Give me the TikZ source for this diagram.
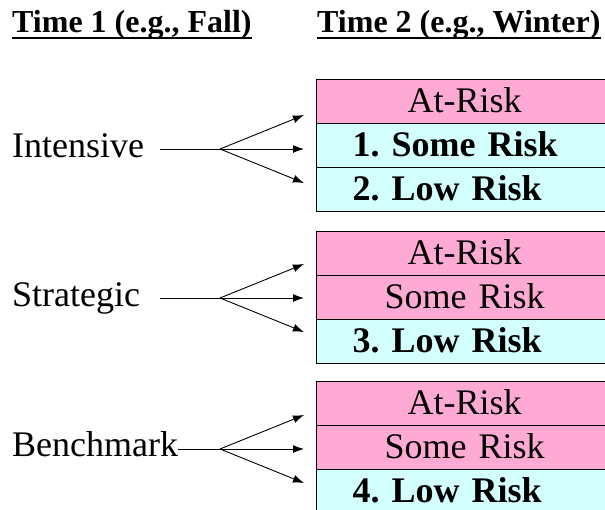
\documentclass[tikz,border=0pt]{standalone}
\usepackage{fontspec}
\setmainfont{LiberationSerif}[Extension=.ttf, UprightFont=*-Regular, BoldFont=*-Bold,
  ItalicFont=*-Italic, BoldItalicFont=*-BoldItalic]
\usetikzlibrary{arrows.meta}
\definecolor{riskpink}{RGB}{255,170,212}
\definecolor{riskcyan}{RGB}{212,255,255}
\frenchspacing
\tikzset{
  heading/.style={anchor=base west, inner sep=0pt, text depth=6pt,
    font=\fontsize{32}{32}\selectfont\bfseries},
  group/.style={anchor=base west, inner sep=0pt,
    font=\fontsize{36}{36}\selectfont},
  row/.style={draw=black, line width=1.3pt, anchor=north west,
    minimum height=44pt, inner xsep=36pt, inner ysep=0pt, text width=224pt,
    text height=26pt, text depth=5pt, font=\fontsize{36}{36}\selectfont},
  atrisk/.style={row, fill=riskpink, align=center},
  okrow/.style={row, fill=riskcyan, align=left, font=\fontsize{36}{36}\selectfont\bfseries},
  fan/.style={line width=0.9pt, -{Latex[length=11pt,width=8pt]}},
}
\begin{document}
\begin{tikzpicture}[x=1pt,y=-1pt]
  \useasboundingbox (0,0) rectangle (605,509);

  % headings
  \node[heading] (t1) at (12,32) {Time 1 (e.g., Fall)};
  \node[heading] (t2) at (317,32) {Time 2 (e.g., Winter)};
  \draw[line width=2.5pt] (t1.south west) -- (t1.south east);
  \draw[line width=2.5pt] (t2.south west) -- (t2.south east);

  % Time 1 groups
  \node[group] (intensive) at (12,157) {Intensive};
  \node[group] (strategic) at (12,306) {Strategic};
  \node[group] (benchmark) at (12,456) {Benchmark};

  % Time 2 boxes
  \node[atrisk] (i1) at (316,79)  {At-Risk};
  \node[okrow]  (i2) at (316,123) {1. Some Risk};
  \node[okrow]  (i3) at (316,167) {2. Low Risk};

  \node[atrisk] (s1) at (316,231) {At-Risk};
  \node[atrisk] (s2) at (316,275) {Some Risk};
  \node[okrow]  (s3) at (316,319) {3. Low Risk};

  \node[atrisk] (b1) at (316,381) {At-Risk};
  \node[atrisk] (b2) at (316,425) {Some Risk};
  \node[okrow]  (b3) at (316,469) {4. Low Risk};

  % arrows
  \coordinate (istart) at (160,149);
  \coordinate (sstart) at (160,298);
  \coordinate (bstart) at (benchmark.east |- 0,449);
  \foreach \g/\y in {i/149, s/298, b/449} {
    \coordinate (\g fan) at (220,\y);
    \coordinate (\g up)  at (304,\y-34);
    \coordinate (\g mid) at (304,\y);
    \coordinate (\g low) at (304,\y+34);
    \draw[line width=0.9pt] (\g start) -- (\g fan);
    \draw[fan] (\g fan) -- (\g up);
    \draw[fan] (\g fan) -- (\g mid);
    \draw[fan] (\g fan) -- (\g low);
  }
\end{tikzpicture}
\end{document}
